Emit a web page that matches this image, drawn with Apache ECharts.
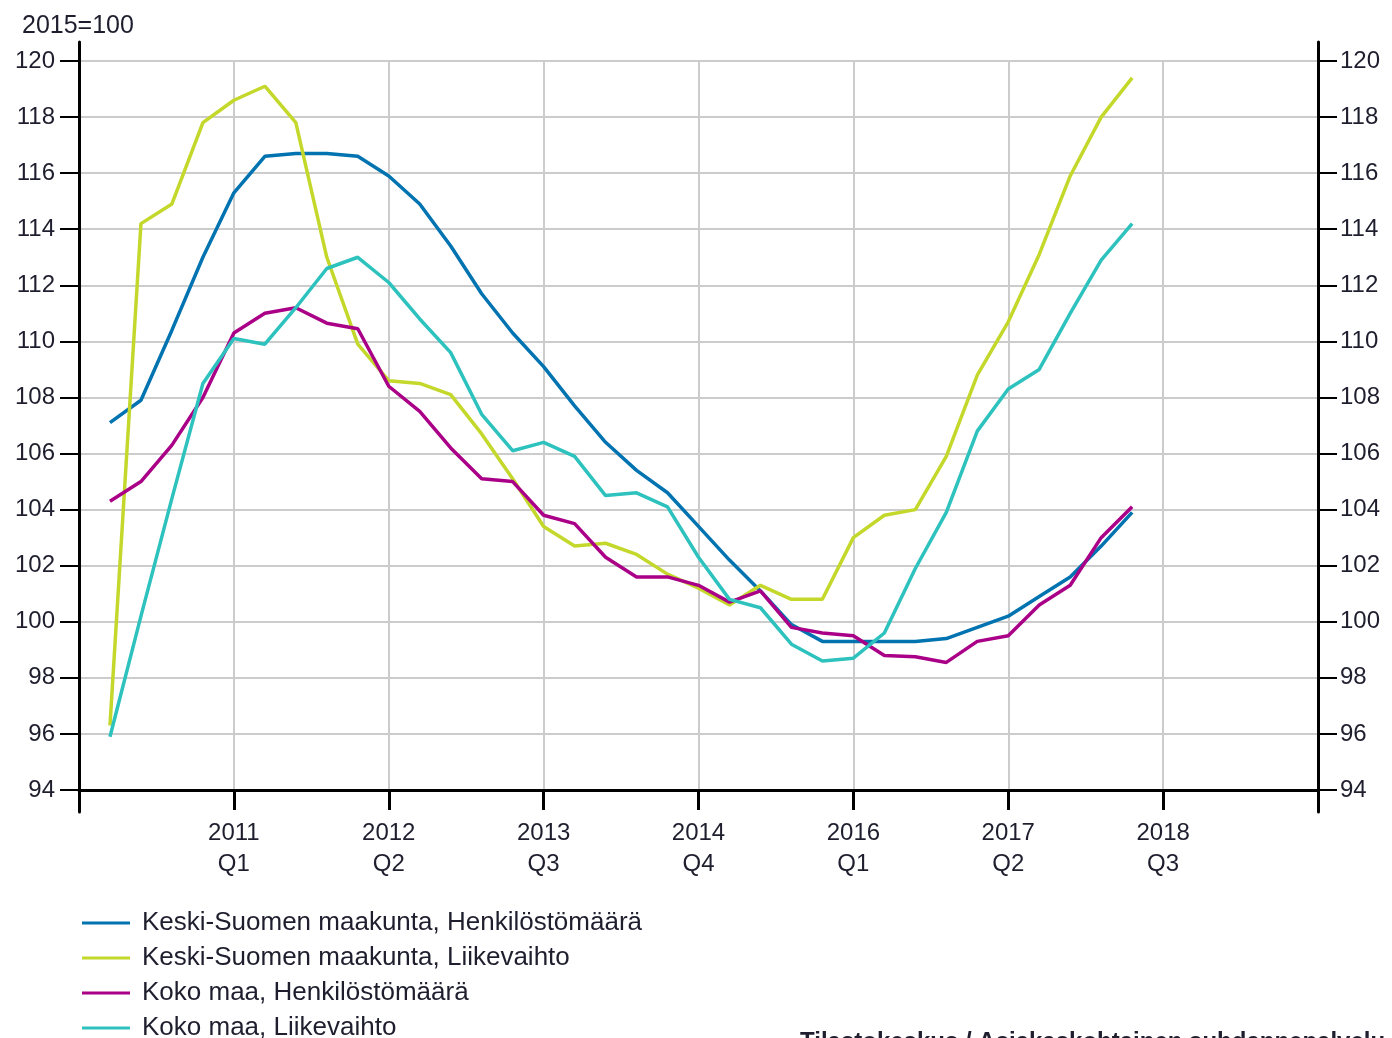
<!DOCTYPE html>
<html><head><meta charset="utf-8">
<script src="https://cdn.jsdelivr.net/npm/echarts@6/dist/echarts.min.js"></script>
<style>html,body{margin:0;padding:0;background:#fff}#c{width:1392px;height:1038px}</style>
</head><body><div id="c"></div>
<script>
// Axis categories (quarters), 2009Q4 .. 2019Q4
const quarters = [
 '2009 Q4',
 '2010 Q1','2010 Q2','2010 Q3','2010 Q4',
 '2011 Q1','2011 Q2','2011 Q3','2011 Q4',
 '2012 Q1','2012 Q2','2012 Q3','2012 Q4',
 '2013 Q1','2013 Q2','2013 Q3','2013 Q4',
 '2014 Q1','2014 Q2','2014 Q3','2014 Q4',
 '2015 Q1','2015 Q2','2015 Q3','2015 Q4',
 '2016 Q1','2016 Q2','2016 Q3','2016 Q4',
 '2017 Q1','2017 Q2','2017 Q3','2017 Q4',
 '2018 Q1','2018 Q2','2018 Q3','2018 Q4',
 '2019 Q1','2019 Q2','2019 Q3','2019 Q4'
];
// Data quarters: 2010Q1 .. 2018Q2
const dataQuarters = quarters.slice(1, 35);

const seriesNames = [
 'Keski-Suomen maakunta, Henkilöstömäärä',
 'Keski-Suomen maakunta, Liikevaihto',
 'Koko maa, Henkilöstömäärä',
 'Koko maa, Liikevaihto'
];
const ksHenkilosto = [107.1,107.9,110.4,113.0,115.3,116.6,116.7,116.7,116.6,115.9,114.9,113.4,111.7,110.3,109.1,107.7,106.4,105.4,104.6,103.4,102.2,101.1,99.9,99.3,99.3,99.3,99.3,99.4,99.8,100.2,100.9,101.6,102.7,103.9];
const ksLiikevaihto = [96.3,114.2,114.9,117.8,118.6,119.1,117.8,113.0,109.9,108.6,108.5,108.1,106.7,105.1,103.4,102.7,102.8,102.4,101.7,101.2,100.6,101.3,100.8,100.8,103.0,103.8,104.0,105.9,108.8,110.7,113.1,115.9,118.0,119.4];
const kmHenkilosto = [104.3,105.0,106.3,108.0,110.3,111.0,111.2,110.65,110.45,108.4,107.5,106.2,105.1,105.0,103.8,103.5,102.3,101.6,101.6,101.3,100.7,101.1,99.8,99.6,99.5,98.8,98.75,98.55,99.3,99.5,100.6,101.3,103.0,104.1];
const kmLiikevaihto = [95.9,100.2,104.4,108.5,110.1,109.9,111.2,112.6,113.0,112.1,110.8,109.6,107.4,106.1,106.4,105.9,104.5,104.6,104.1,102.3,100.8,100.5,99.2,98.6,98.7,99.6,101.9,103.9,106.8,108.3,109.0,111.0,112.9,114.2];
const colors = ['#0073b0','#c3d82b','#aa0088','#2ec2be'];
const yTicks = {min: 94, max: 120, interval: 2};

const FONT = "'Liberation Sans', Arial, sans-serif";
const TXT = '#1e1e2e';
const allValues = [ksHenkilosto, ksLiikevaihto, kmHenkilosto, kmLiikevaihto];

const labelShown = (i) => i % 5 === 0 && i >= 5 && i <= 35;

const chart = echarts.init(document.getElementById('c'), null, {renderer: 'canvas'});
chart.setOption({
  animation: false,
  backgroundColor: '#ffffff',
  textStyle: {fontFamily: FONT},
  title: [
    {text: '2015=100', left: 17, top: 9, textStyle: {fontSize: 25, fontWeight: 'normal', color: TXT, fontFamily: FONT}},
    {text: 'Tilastokeskus / Asiakaskohtainen suhdannepalvelu', left: 795, top: 1025, textStyle: {fontSize: 24, fontWeight: 'bold', color: TXT, fontFamily: FONT}}
  ],
  legend: {
    orient: 'vertical', left: 77, top: 905, height: 300, itemGap: 9,
    icon: 'rect', itemWidth: 48, itemHeight: 3,
    textStyle: {fontSize: 26, color: TXT, fontFamily: FONT, padding: [0, 0, 0, 7]},
    data: seriesNames
  },
  grid: [
    {left: 79, right: 74, top: 61, bottom: 248},
    {left: 79, right: 74, top: 42, bottom: 226}
  ],
  xAxis: [
    {
      type: 'category', data: quarters, boundaryGap: false, gridIndex: 0,
      axisLine: {onZero: false, lineStyle: {color: '#000', width: 3}},
      axisTick: {show: true, length: 20, interval: (i) => i % 5 === 0, lineStyle: {color: '#000', width: 3}},
      axisLabel: {
        interval: labelShown, fontSize: 24, color: TXT, lineHeight: 31, margin: 28, fontFamily: FONT,
        formatter: (v) => v.replace(' ', '\n')
      },
      splitLine: {show: true, interval: labelShown, lineStyle: {color: '#cccccc', width: 2}}
    },
    {type: 'value', gridIndex: 1, show: false, min: 0, max: 1}
  ],
  yAxis: [
    {
      type: 'value', gridIndex: 0, position: 'left', min: yTicks.min, max: yTicks.max, interval: yTicks.interval,
      axisLine: {show: true, onZero: false, lineStyle: {color: '#000', width: 3}},
      axisTick: {show: true, length: 19, lineStyle: {color: '#000', width: 2}},
      axisLabel: {fontSize: 24, color: TXT, margin: 24, fontFamily: FONT},
      splitLine: {show: true, lineStyle: {color: '#cccccc', width: 2}}
    },
    {
      type: 'value', gridIndex: 0, position: 'right', min: yTicks.min, max: yTicks.max, interval: yTicks.interval,
      axisLine: {show: true, onZero: false, lineStyle: {color: '#000', width: 3}},
      axisTick: {show: true, length: 19, lineStyle: {color: '#000', width: 2}},
      axisLabel: {fontSize: 24, color: TXT, margin: 22, fontFamily: FONT},
      splitLine: {show: false}
    },
    {
      type: 'value', gridIndex: 1, position: 'left', min: 0, max: 1,
      axisLine: {show: true, onZero: false, lineStyle: {color: '#000', width: 3}},
      axisTick: {show: false}, axisLabel: {show: false}, splitLine: {show: false}
    },
    {
      type: 'value', gridIndex: 1, position: 'right', min: 0, max: 1,
      axisLine: {show: true, onZero: false, lineStyle: {color: '#000', width: 3}},
      axisTick: {show: false}, axisLabel: {show: false}, splitLine: {show: false}
    }
  ],
  series: seriesNames.map((name, k) => ({
    name: name, type: 'line', xAxisIndex: 0, yAxisIndex: 0,
    data: allValues[k].map((v, i) => [dataQuarters[i], v]),
    symbol: 'none', smooth: false,
    itemStyle: {color: colors[k]},
    lineStyle: {color: colors[k], width: 3.5}
  }))
});
</script>
</body></html>
